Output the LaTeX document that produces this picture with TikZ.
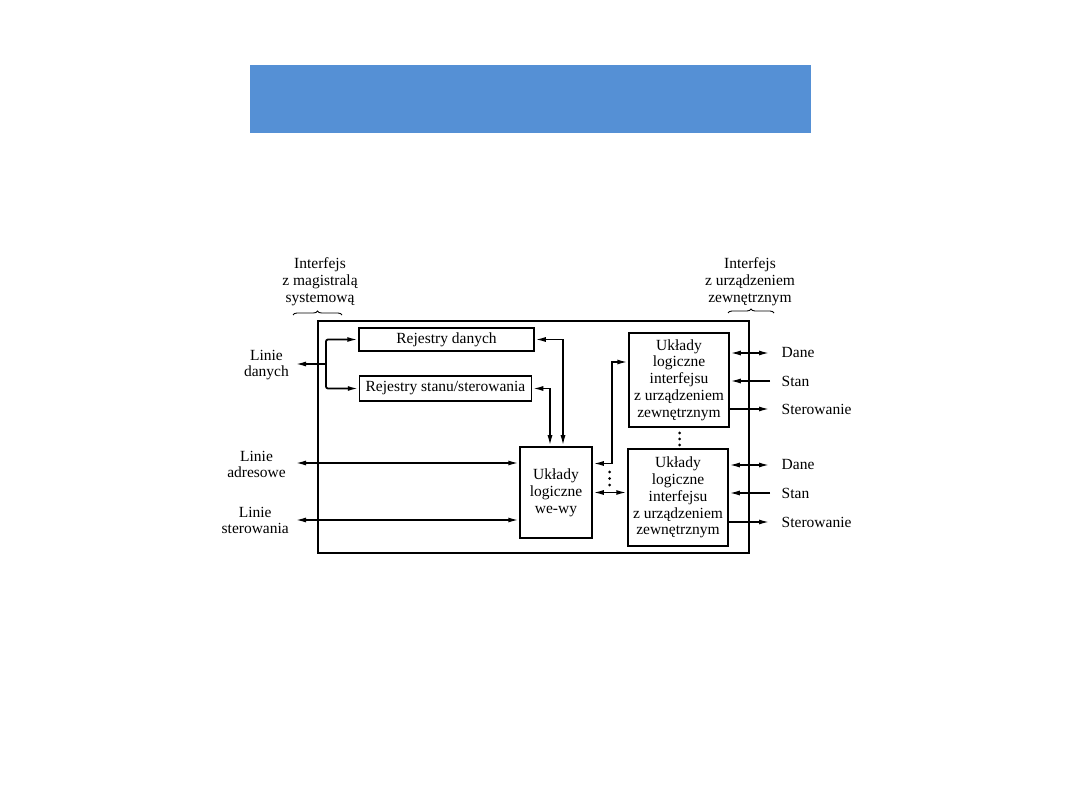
\documentclass[tikz,border=0pt]{standalone}
\usepackage{fontspec}
\setmainfont{Liberation Serif}
\usepackage{tikz}
\usetikzlibrary{arrows.meta, positioning, decorations.pathreplacing}

\definecolor{titleblue}{RGB}{85,144,213}
\newcommand\labfont{\fontsize{15.5}{16.8}\selectfont}

\begin{document}
\begin{tikzpicture}[
    x=1pt, y=-1pt,
    box/.style={rectangle, draw=black, line width=1.5pt, inner sep=2pt, align=center, font=\labfont},
    lbl/.style={inner sep=0pt, align=center, font=\labfont},
    arrow/.style={-{Latex[length=11pt,width=5pt]}, line width=1.8pt},
    dblarrow/.style={{Latex[length=11pt,width=5pt]}-{Latex[length=11pt,width=5pt]}, line width=1.8pt},
    brace/.style={decorate, decoration={brace, amplitude=4pt}, line width=0.9pt}
]
    \useasboundingbox (0,0) rectangle (1080,810);
    \node[fill=titleblue, minimum width=561pt, minimum height=68pt, inner sep=0pt] (title) at (530.5,99) {};

    % module frame and its blocks
    \node[box, minimum width=431pt, minimum height=232pt] (module) at (533.5,437) {};
    \node[box, minimum width=175pt, minimum height=23pt] (regdata) at (446.5,339.5) {Rejestry danych};
    \node[box, minimum width=172pt, minimum height=25pt] (regctrl) at (445.5,388.5) {Rejestry stanu/sterowania};
    \node[box, minimum width=72pt, minimum height=91pt] (wewy) at (556,492.5) {Układy\\logiczne\\we-wy};
    \node[box, minimum width=100pt, minimum height=94pt] (devA) at (679,380) {Układy\\logiczne\\interfejsu\\z urządzeniem\\zewnętrznym};
    \node[box, minimum width=100pt, minimum height=97pt] (devB) at (678,497.5) {Układy\\logiczne\\interfejsu\\z urządzeniem\\zewnętrznym};

    % bus side
    \node[lbl, anchor=east] (ldanych) at (289,365) {Linie\\danych};
    \node[lbl, anchor=east] (ladres) at (286,464.5) {Linie\\adresowe};
    \node[lbl, anchor=east] (lster) at (289,520.5) {Linie\\sterowania};
    \node[lbl] (busif) at (320,282) {Interfejs\\z magistralą\\systemową};
    \node[lbl] (devif) at (750,281.5) {Interfejs\\z urządzeniem\\zewnętrznym};
    \coordinate (jct) at (326,364);
    \coordinate (endd) at (295,364);
    \coordinate (enda) at (295,463);
    \coordinate (ends) at (295,520);

    \draw[arrow] (jct) -- (endd);
    \draw[arrow, rounded corners=2pt] (jct) |- (regdata.west);
    \draw[arrow, rounded corners=2pt] (jct) |- (regctrl.west);
    \draw[dblarrow] (enda) -- (wewy.west |- enda);
    \draw[dblarrow] (ends) -- (wewy.west |- ends);

    \draw[brace] (293,315) -- (342,315);
    \draw[brace] (728,313) -- (774,313);

    % inside the module
    \draw[dblarrow] (regdata.east) -| ([xshift=7pt]wewy.north);
    \draw[dblarrow] (regctrl.east) -| ([xshift=-6pt]wewy.north);
    \draw[dblarrow] ([yshift=29pt]wewy.east) -- ++(19,0) |- ([yshift=18pt]devA.west);
    \draw[dblarrow] (wewy.east) -- (devB.west |- wewy.east);
    \foreach \y in {472,478.5,485} \fill (609.5,\y) circle (1.5pt);
    \foreach \y in {433,439,445} \fill (679.5,\y) circle (1.5pt);

    % device side
    \foreach \dev/\yd/\ys/\yc in {devA/353/381/409, devB/465/493/522} {
        \coordinate (\dev-d) at (770,\yd);
        \coordinate (\dev-s) at (770,\ys);
        \coordinate (\dev-c) at (770,\yc);
        \draw[dblarrow] (\dev.east |- \dev-d) -- (\dev-d);
        \draw[arrow] (\dev-s) -- (\dev.east |- \dev-s);
        \draw[arrow] (\dev.east |- \dev-c) -- (\dev-c);
        \node[lbl, right=11.5pt of \dev-d] (\dev-dane) {Dane};
        \node[lbl, right=11.5pt of \dev-s] (\dev-stan) {Stan};
        \node[lbl, right=11.5pt of \dev-c] (\dev-ster) {Sterowanie};
    }
\end{tikzpicture}
\end{document}
